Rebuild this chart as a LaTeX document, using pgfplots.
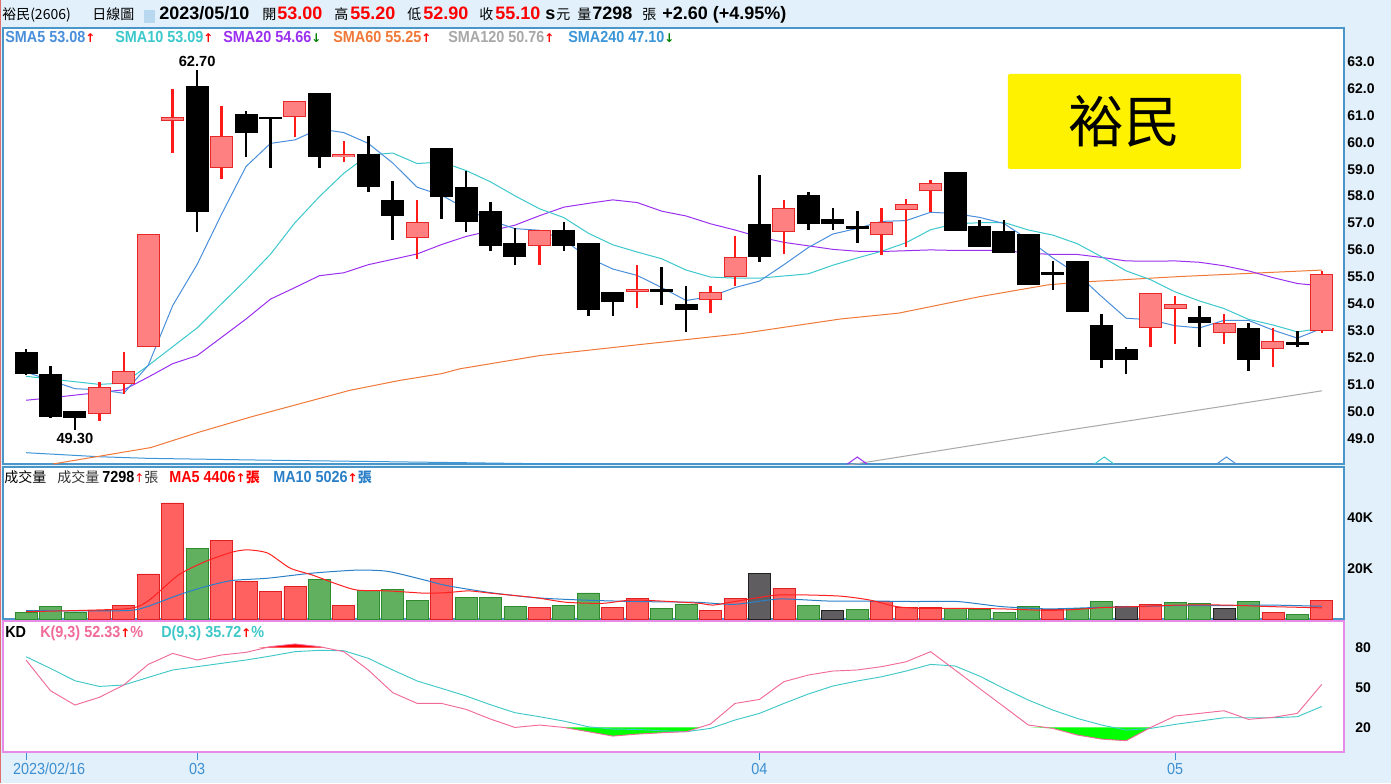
\documentclass[border=0pt]{standalone}
\usepackage{fontspec}
\setmainfont{Liberation Sans}
\newfontfamily\cjk{Noto Sans CJK TC}
\newfontfamily\sym{DejaVu Sans}
\newfontfamily\narrow[FakeStretch=0.9]{Liberation Sans}
\usepackage{pgfplots}
\usepackage{pgfplotstable}
\pgfplotsset{compat=1.18}

\definecolor{bgblue}{HTML}{E1F0FA}
\definecolor{framecol}{HTML}{4A96C8}
\definecolor{kdframe}{HTML}{E88AE8}
\definecolor{redwick}{HTML}{FF1A1A}
\definecolor{redfill}{HTML}{FF8080}
\definecolor{redborder}{HTML}{E82828}
\definecolor{smaA}{HTML}{4A8FDB}
\definecolor{smaB}{HTML}{3CC8CC}
\definecolor{smaC}{HTML}{9B30F0}
\definecolor{smaD}{HTML}{F07838}
\definecolor{smaE}{HTML}{A8A8A8}
\definecolor{smaF}{HTML}{3A96D8}
\definecolor{volred}{HTML}{FF6060}
\definecolor{volredd}{HTML}{E02020}
\definecolor{volgreen}{HTML}{60B060}
\definecolor{volgreend}{HTML}{2E8B2E}
\definecolor{volgray}{HTML}{5F5D60}
\definecolor{volgrayd}{HTML}{202020}
\definecolor{vmaA}{HTML}{FF2020}
\definecolor{vmaB}{HTML}{2A80C8}
\definecolor{kcol}{HTML}{F06A9A}
\definecolor{dcol}{HTML}{40C8C8}
\definecolor{kdgreen}{HTML}{00FF00}
\definecolor{datecol}{HTML}{3D8FD1}
\definecolor{iconblue}{HTML}{B8D8F0}
\definecolor{downgreen}{HTML}{008000}
\definecolor{edgered}{HTML}{E06E6E}

\newcommand\hdrcjk{\cjk\fontsize{10.5pt}{13pt}\selectfont}
\newcommand\hdrbold{\fontsize{13.5pt}{15pt}\selectfont\bfseries}
\newcommand\lgf{\narrow\fontsize{12pt}{14pt}\selectfont\bfseries}
\newcommand\lgcjk{\cjk\fontsize{10.5pt}{13pt}\selectfont}
\newcommand\tickf{\fontsize{10.5pt}{12pt}\selectfont\bfseries}
\newcommand\arrup{{\sym\fontsize{9pt}{10pt}\selectfont\color{red}↑}}
\newcommand\arrdn{{\sym\fontsize{9pt}{10pt}\selectfont\color{downgreen}↓}}

% candles: index open high low close
\pgfplotstableread{
i O H L C
3 49.9 51.1 49.65 50.9
4 51.0 52.2 50.65 51.5
5 52.4 56.6 52.4 56.6
6 60.8 62.0 59.6 60.95
8 59.05 61.35 58.65 60.25
11 60.95 61.55 60.2 61.55
13 59.45 60.05 59.25 59.55
16 56.45 57.85 55.65 57.05
21 56.15 56.75 55.45 56.75
25 54.45 55.45 53.85 54.55
28 54.15 54.65 53.65 54.45
29 55.0 56.5 54.65 55.75
31 56.65 57.85 55.85 57.55
35 56.55 57.55 55.8 57.05
36 57.5 57.9 56.1 57.7
37 58.2 58.6 57.4 58.5
46 53.1 54.4 52.4 54.4
47 53.8 54.3 52.5 54.0
49 52.9 53.6 52.5 53.3
51 52.3 53.1 51.65 52.6
53 53.0 55.2 52.9 55.1
}\redcandles

\pgfplotstableread{
i O H L C
0 52.2 52.3 51.35 51.4
1 51.4 51.7 49.75 49.8
2 50.0 50.0 49.3 49.75
7 62.1 62.7 56.65 57.4
9 61.05 61.15 59.45 60.35
10 60.9 60.9 59.05 60.9
12 61.85 61.85 59.05 59.45
14 59.55 60.25 58.15 58.35
15 57.85 58.55 56.35 57.25
17 59.8 59.8 57.15 57.95
18 58.35 58.95 56.65 57.05
19 57.45 57.8 55.95 56.15
20 56.25 56.8 55.45 55.75
22 56.75 57.05 55.95 56.15
23 56.25 56.25 53.55 53.75
24 54.45 54.45 53.55 54.05
26 54.5 55.35 53.95 54.5
27 54.0 54.65 52.95 53.75
30 56.95 58.8 55.55 55.75
32 58.05 58.15 56.75 56.95
33 57.15 57.55 56.75 56.95
34 56.85 57.45 56.25 56.8
38 58.9 58.9 56.7 56.7
39 56.9 57.1 56.1 56.1
40 56.7 57.1 55.9 55.9
41 56.6 56.6 54.7 54.7
42 55.15 55.6 54.5 55.1
43 55.6 55.6 53.7 53.7
44 53.2 53.6 51.6 51.9
45 52.3 52.4 51.4 51.9
48 53.5 53.9 52.4 53.3
50 53.1 53.3 51.5 51.9
52 52.55 53.0 52.4 52.5
}\blackcandles

% moving averages of the price
\pgfplotstableread{
i s5 s10 s20
0 51.46 51.3 50.41
1 51.15 51.2 50.5
2 50.84 51.1 50.6
3 50.8 51.0 50.7
4 50.67 51.05 50.8
5 51.71 51.7 51.27
6 53.93 52.4 51.77
7 55.46 53.1 52.07
8 57.33 54.0 52.75
9 59.10 54.89 53.43
10 59.96 55.84 54.17
11 60.09 57.01 54.6
12 60.50 57.98 55.04
13 60.36 58.85 55.15
14 59.96 59.53 55.45
15 59.23 59.60 55.65
16 58.33 59.21 55.85
17 58.03 59.27 56.2
18 57.53 58.95 56.5
19 57.09 58.53 56.71
20 56.79 58.01 56.92
21 56.73 57.53 57.27
22 56.37 57.20 57.59
23 55.71 56.62 57.73
24 55.29 56.19 57.86
25 55.05 55.92 57.76
26 54.60 55.67 57.44
27 54.12 55.25 57.26
28 54.26 54.99 56.97
29 54.60 54.95 56.74
30 54.84 54.95 56.48
31 55.45 55.03 56.28
32 56.09 55.11 56.15
33 56.59 55.43 56.02
34 56.80 55.70 55.95
35 57.06 55.95 55.94
36 57.09 56.27 55.97
37 57.40 56.75 56.00
38 57.35 56.97 55.98
39 57.21 57.01 55.98
40 56.98 57.02 55.98
41 56.38 56.74 55.88
42 55.70 56.55 55.83
43 55.10 56.23 55.83
44 54.26 55.74 55.72
45 53.46 55.22 55.59
46 53.40 54.89 55.58
47 53.18 54.44 55.59
48 53.10 54.10 55.54
49 53.38 53.82 55.41
50 53.38 53.42 55.22
51 53.02 53.21 54.97
52 52.72 52.95 54.75
53 53.08 53.09 54.66
}\smas

\pgfplotstableread{
i v
1.1 48.04
3.0 48.33
5.1 48.65
7.1 49.23
9.2 49.79
11.2 50.28
13.25 50.78
15.3 51.15
17.0 51.40
17.75 51.58
21.0 52.07
25.1 52.48
29.2 52.88
33.3 53.43
35.7 53.65
39.0 54.26
41.8 54.70
43.1 54.80
47.2 55.01
53 55.25
}\smasixty

\pgfplotstableread{
i v
33.5 47.98
43.0 49.35
48.5 50.12
53 50.76
}\smaonetwenty

\pgfplotstableread{
i v
0 48.46
3 48.31
5 48.25
10 48.18
17.75 48.09
21 48.05
24 47.98
53 47.10
}\smatwoforty

% volume (lots)
\pgfplotstableread{
i v
3 3300
4 5400
5 17800
6 45800
8 30900
9 15000
10 10700
11 12800
13 5400
17 16100
21 4600
24 4600
25 8200
28 3200
29 8200
31 11900
35 6900
36 4600
37 4600
42 3600
46 5800
51 2700
53 7298
}\volR

\pgfplotstableread{
i v
0 2500
1 4900
2 2800
7 28000
12 15700
14 11100
15 11800
16 7500
18 8600
19 8600
20 5000
22 5400
23 10300
26 4200
27 5900
32 5400
34 3600
38 4000
39 3600
40 2500
41 5000
43 4200
44 7100
47 6600
48 6100
50 6800
52 1900
}\volG

\pgfplotstableread{
i v
30 18100
33 3200
45 4900
49 4000
}\volN

\pgfplotstableread{
i v
0 2900
4.05 4000
4.96 6900
6.24 17400
7.34 22700
8.43 26400
9.07 27300
9.89 26000
10.8 20100
11.7 17400
12.8 13500
13.55 11400
14.8 11100
16.3 10200
17.2 10400
18.1 11100
19.0 10200
20.85 8400
22.1 6600
23.6 6200
24.9 7500
27.4 6300
28.1 5500
29.0 6900
30.8 9500
33.2 9100
34.5 7500
35.6 4900
36.6 4200
38.1 4200
39.9 4000
41.8 3400
43.0 3800
44.0 4500
45.4 4900
47.2 5500
49.1 5500
50.9 4900
53 4406
}\vmafive

\pgfplotstableread{
i v
0 3300
4.05 3300
4.96 4900
6.24 9500
7.34 12800
8.43 15200
9.89 16100
11.7 18100
13.55 19300
14.8 18800
16.3 15400
17.2 13200
19.0 10400
20.85 8400
22.7 7500
24.9 6900
27.4 6600
29.0 5800
30.8 7900
32.8 7100
34.5 7100
36.3 6900
38.1 6900
39.9 4900
41.8 4000
43.6 4500
45.4 4900
47.2 5300
49.1 5300
50.9 5500
53 5026
}\vmaten

% KD(9,3)
\pgfplotstableread{
i K D
0 70.7 73.2
1 47.6 64.4
2 36.8 55.1
3 42.6 50.8
4 51.9 51.9
5 67.4 57.6
6 75.7 63.2
7 70.7 65.7
8 74.5 68.2
9 76.5 70.7
10 80.8 73.7
11 82.8 77.0
12 80.8 78.0
13 77.0 77.7
14 63.2 72.0
15 46.1 63.2
16 38.0 54.9
17 38.0 49.3
18 33.5 43.6
19 26.2 37.0
20 19.9 31.0
21 21.7 28.0
22 19.9 24.7
23 16.7 20.4
24 13.4 18.7
25 14.9 18.4
26 15.9 17.4
27 16.7 16.7
28 22.5 19.2
29 38.0 25.5
30 41.0 30.5
31 54.4 38.0
32 59.4 45.1
33 62.4 51.1
34 63.2 54.9
35 65.7 58.1
36 69.4 62.4
37 77.0 67.4
38 63.2 66.2
39 49.3 58.6
40 35.5 49.3
41 21.7 40.5
42 19.2 33.0
43 14.2 26.7
44 11.1 21.7
45 9.9 17.9
46 19.9 19.2
47 28.5 22.2
48 30.5 24.7
49 32.5 27.2
50 26.0 27.2
51 27.5 27.2
52 30.5 28.0
53 52.33 35.72
}\kd

% K beyond the 80 / 20 levels (with the crossing points), for the shaded zones
\pgfplotstableread{
i v
9.5 80
10 80.8
11 82.8
12 80.8
12.2 80
}\kdhigh

\pgfplotstableread{
i v
21.9 20
22 19.9
23 16.7
24 13.4
25 14.9
26 15.9
27 16.7
27.57 20
}\kdlowA

\pgfplotstableread{
i v
41.08 20
42 19.2
43 14.2
44 11.1
45 9.9
46 19.9
46.01 20
}\kdlowB

\pgfplotsset{
  panel/.style={
    scale only axis, anchor=south west,
    width=1005.75pt,
    xmin=-0.941, xmax=53.906,
    axis background/.style={fill=white},
    xtick=\empty,
    ytick pos=right, yticklabel pos=right,
    ytick style={draw=none},
    yticklabel style={font=\tickf, text=black, xshift=-1pt,
       /pgf/number format/assume math mode=true},
  },
  wick/.style={only marks, mark=*, mark size=0pt, mark options={draw=none, fill=none},
     error bars/.cd, y dir=both, y explicit, error mark=none,
     error bar style={line width=1.9pt, #1}},
  body/.style={only marks, mark=*, mark size=0pt, mark options={draw=none, fill=none},
     error bars/.cd, y dir=both, y explicit, error mark=none,
     error bar style={line width=#1}},
}

\begin{document}
\begin{tikzpicture}
\fill[bgblue] (0pt,0pt) rectangle (1043.25pt,587.25pt);
\fill[edgered] (0pt,0pt) rectangle (1.1pt,587.25pt);

% ---------------- price panel ----------------
\begin{axis}[panel, at={(2.25pt,239.25pt)}, height=327pt,
  ymin=48.04, ymax=64.25,
  axis line style={framecol, line width=0.9pt},
  ytick={49,50,...,63},
  yticklabel style={/pgf/number format/.cd, fixed, fixed zerofill, precision=1, assume math mode=true},
]
\addplot[smaF, line width=0.75pt] table[x=i, y=v] {\smatwoforty};
\addplot[smaE, line width=0.75pt] table[x=i, y=v] {\smaonetwenty};
\addplot[smaD, line width=0.75pt] table[x=i, y=v] {\smasixty};
\addplot[smaC, line width=0.75pt] table[x=i, y=s20] {\smas};
\addplot[smaB, line width=0.75pt] table[x=i, y=s10] {\smas};
\addplot[smaA, line width=0.75pt] table[x=i, y=s5] {\smas};
% small chevrons on the bottom edge
\addplot[smaC, line width=0.75pt] coordinates {(33.6,48.04) (34.0,48.30) (34.4,48.04)};
\addplot[smaB, line width=0.75pt] coordinates {(43.7,48.04) (44.1,48.30) (44.5,48.04)};
\addplot[smaA, line width=0.75pt] coordinates {(48.7,48.04) (49.1,48.30) (49.5,48.04)};
% wicks
\addplot[wick=redwick] table[x=i, y expr={(\thisrow{H}+\thisrow{L})/2}, y error expr={(\thisrow{H}-\thisrow{L})/2}] {\redcandles};
\addplot[wick=black] table[x=i, y expr={(\thisrow{H}+\thisrow{L})/2}, y error expr={(\thisrow{H}-\thisrow{L})/2}] {\blackcandles};
% bodies
\addplot[body={17.25pt, redborder}] table[x=i, y expr={(\thisrow{O}+\thisrow{C})/2}, y error expr={max(abs(\thisrow{C}-\thisrow{O})/2,0.06)}] {\redcandles};
\addplot[body={15.75pt, redfill}] table[x=i, y expr={(\thisrow{O}+\thisrow{C})/2}, y error expr={max(abs(\thisrow{C}-\thisrow{O})/2-0.037,0.02)}] {\redcandles};
\addplot[body={17.25pt, black}] table[x=i, y expr={(\thisrow{O}+\thisrow{C})/2}, y error expr={max(abs(\thisrow{C}-\thisrow{O})/2,0.05)}] {\blackcandles};
\node[anchor=south, font=\fontsize{11pt}{12pt}\selectfont\bfseries, inner sep=2pt] at (axis cs:7,62.7) {62.70};
\node[anchor=north, font=\fontsize{11pt}{12pt}\selectfont\bfseries, inner sep=2pt] at (axis cs:2,49.3) {49.30};
\end{axis}

% ---------------- volume panel ----------------
\begin{axis}[panel, at={(2.25pt,123pt)}, height=114pt,
  ymin=0, ymax=60000,
  axis line style={framecol, line width=0.9pt},
  ytick={20000,40000}, yticklabels={20K,40K},
  scaled y ticks=false,
]
\addplot[ybar, bar width=0.9, bar shift=0pt, fill=volred, draw=volredd, line width=0.6pt] table[x=i, y=v] {\volR};
\addplot[ybar, bar width=0.9, bar shift=0pt, fill=volgreen, draw=volgreend, line width=0.6pt] table[x=i, y=v] {\volG};
\addplot[ybar, bar width=0.9, bar shift=0pt, fill=volgray, draw=volgrayd, line width=0.6pt] table[x=i, y=v] {\volN};
\addplot[vmaB, line width=0.75pt, smooth, tension=0.4] table[x=i, y=v] {\vmaten};
\addplot[vmaA, line width=0.75pt, smooth, tension=0.4] table[x=i, y=v] {\vmafive};
\end{axis}

% ---------------- KD panel ----------------
\begin{axis}[panel, at={(2.25pt,23.25pt)}, height=98.25pt,
  ymin=1.4, ymax=100.1,
  axis line style={kdframe, line width=0.9pt},
  ytick={20,50,80},
  xtick={0,7,30,47},
  xticklabels={\makebox[0pt][l]{\kern-9.75pt 2023/02/16},03,04,05},
  xtick pos=left, xticklabel pos=left,
  tick align=outside, major tick length=6pt,
  xtick style={datecol, line width=0.75pt},
  xticklabel style={font=\narrow\fontsize{12pt}{13pt}\selectfont, text=datecol, yshift=1pt},
]
% shaded zones: K below 20 (green) and K above 80 (red)
\addplot[fill=kdgreen, draw=none] table[x=i, y=v] {\kdlowA} -- cycle;
\addplot[fill=kdgreen, draw=none] table[x=i, y=v] {\kdlowB} -- cycle;
\addplot[fill=red, draw=none] table[x=i, y=v] {\kdhigh} -- cycle;
\addplot[dcol, line width=0.7pt] table[x=i, y=D] {\kd};
\addplot[kcol, line width=0.7pt] table[x=i, y=K] {\kd};
\end{axis}

\begin{scope}[x=0.75pt, y=0.75pt]
% ---------------- header row ----------------
\begin{scope}[every node/.style={inner sep=0pt, anchor=base west}]
\node[font=\hdrcjk] at (2,763) {裕民(2606)};
\node[font=\hdrcjk] at (92,763) {日線圖};
\node[font=\hdrbold] at (159,763) {2023/05/10};
\node[font=\hdrcjk] at (262,763) {開};
\node[font=\hdrbold, text=red] at (277,763) {53.00};
\node[font=\hdrcjk] at (334,763) {高};
\node[font=\hdrbold, text=red] at (350,763) {55.20};
\node[font=\hdrcjk] at (407,763) {低};
\node[font=\hdrbold, text=red] at (423,763) {52.90};
\node[font=\hdrcjk] at (479,763) {收};
\node[font=\hdrbold, text=red] at (495,763) {55.10};
\node[font=\hdrbold] at (545,763) {s};
\node[font=\hdrcjk] at (556,763) {元};
\node[font=\hdrcjk] at (577,763) {量};
\node[font=\hdrbold] at (592,763) {7298};
\node[font=\hdrcjk] at (642,763) {張};
\node[font=\hdrbold] at (662,763) {+2.60 (+4.95\%)};

% SMA legend
\node[font=\lgf, text=smaA] at (5,740) {SMA5 53.08\arrup};
\node[font=\lgf, text=smaB] at (115,740) {SMA10 53.09\arrup};
\node[font=\lgf, text=smaC] at (223,740) {SMA20 54.66\arrdn};
\node[font=\lgf, text=smaD] at (333,740) {SMA60 55.25\arrup};
\node[font=\lgf, text=smaE] at (448,740) {SMA120 50.76\arrup};
\node[font=\lgf, text=smaF] at (568,740) {SMA240 47.10\arrdn};

% volume legend
\node[font=\lgcjk] at (4,301) {成交量};
\node[font=\lgcjk, text=black!80] at (57,301) {成交量 {\lgf\color{black}7298}\arrup{}張};
\node[font=\lgf, text=red] at (169,301) {MA5 4406\arrup{}{\lgcjk 張}};
\node[font=\lgf, text=vmaB] at (273,301) {MA10 5026\arrup{}{\lgcjk 張}};

% KD legend
\node[font=\lgf] at (5,146) {KD};
\node[font=\lgf, text=kcol] at (40,146) {K(9,3) 52.33\arrup{}\%};
\node[font=\lgf, text=dcol] at (161,146) {D(9,3) 35.72\arrup{}\%};
\end{scope}

\fill[iconblue] (144,760) rectangle (155,773);

% name box
\node[fill=yellow, rounded corners=1.5pt, minimum width=175pt, minimum height=71.25pt, inner sep=0pt,
      font=\cjk\fontsize{42pt}{44pt}\selectfont] at (1124.5,661.5) {裕民};
\end{scope}
\end{tikzpicture}
\end{document}
